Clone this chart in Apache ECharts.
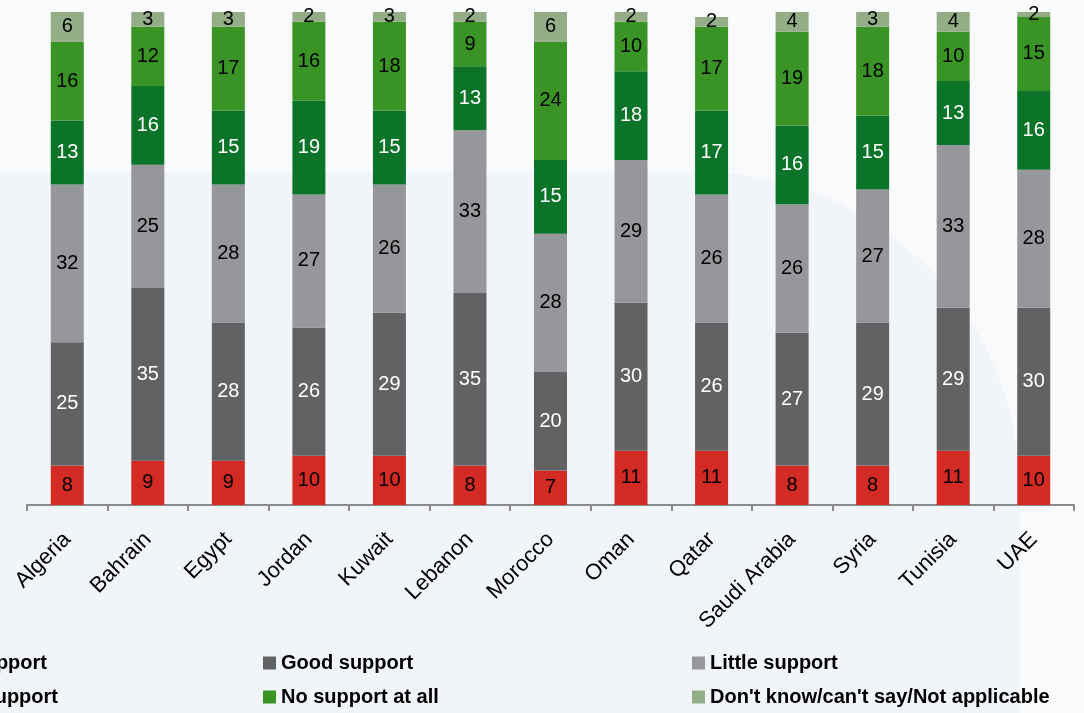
<!DOCTYPE html>
<html>
<head>
<meta charset="utf-8">
<script src="https://cdn.jsdelivr.net/npm/echarts@6/dist/echarts.min.js"></script>
<style>
  html, body { margin: 0; padding: 0; background: #F9FAFC; }
  #chart { width: 1084px; height: 713px; }
</style>
</head>
<body>
<div id="chart"></div>
<script>
// Countries along the x axis
const countries = ['Algeria', 'Bahrain', 'Egypt', 'Jordan', 'Kuwait', 'Lebanon', 'Morocco',
  'Oman', 'Qatar', 'Saudi Arabia', 'Syria', 'Tunisia', 'UAE'];

// Response shares (%) per country, bottom to top of each stack
const veryGoodSupport   = [8, 9, 9, 10, 10, 8, 7, 11, 11, 8, 8, 11, 10];
const goodSupport       = [25, 35, 28, 26, 29, 35, 20, 30, 26, 27, 29, 29, 30];
const littleSupport     = [32, 25, 28, 27, 26, 33, 28, 29, 26, 26, 27, 33, 28];
const veryLittleSupport = [13, 16, 15, 19, 15, 13, 15, 18, 17, 16, 15, 13, 16];
const noSupportAtAll    = [16, 12, 17, 16, 18, 9, 24, 10, 17, 19, 18, 10, 15];
const dontKnow          = [6, 3, 3, 2, 3, 2, 6, 2, 2, 4, 3, 4, 2];

const seriesNames = ['Very good support', 'Good support', 'Little support',
  'Very little support', 'No support at all', "Don't know/can't say/Not applicable"];
const seriesData = [veryGoodSupport, goodSupport, littleSupport, veryLittleSupport, noSupportAtAll, dontKnow];
const colors = ['#D42A24', '#616264', '#96979B', '#0B7429', '#3A9325', '#93AE87'];
const labelColors = ['#000', '#fff', '#000', '#fff', '#000', '#000'];

const FONT = 'Liberation Sans, Arial, sans-serif';

const chart = echarts.init(document.getElementById('chart'), null, { renderer: 'canvas' });

const series = seriesNames.map((name, i) => ({
  name,
  type: 'bar',
  stack: 'total',
  barWidth: 33,
  data: seriesData[i],
  itemStyle: { color: colors[i] },
  label: {
    show: true,
    position: 'inside',
    color: labelColors[i],
    fontFamily: FONT,
    fontSize: 20
  },
  emphasis: { disabled: true }
}));

// One legend block per entry, laid out in a 3 x 2 grid
const legendBase = {
  orient: 'horizontal',
  padding: 0,
  itemWidth: 13,
  itemHeight: 13,
  icon: 'rect',
  selectedMode: false,
  textStyle: { fontFamily: FONT, fontSize: 20, fontWeight: 'bold', color: '#000', lineHeight: 22 }
};
const legends = [
  Object.assign({}, legendBase, { data: [seriesNames[0]], right: 1037, top: 652 }),
  Object.assign({}, legendBase, { data: [seriesNames[1]], left: 263, top: 652 }),
  Object.assign({}, legendBase, { data: [seriesNames[2]], left: 692, top: 652 }),
  Object.assign({}, legendBase, { data: [seriesNames[3]], right: 1026, top: 686 }),
  Object.assign({}, legendBase, { data: [seriesNames[4]], left: 263, top: 686 }),
  Object.assign({}, legendBase, { data: [seriesNames[5]], left: 692, top: 686 })
];

chart.setOption({
  animation: false,
  backgroundColor: '#F9FAFC',
  graphic: [{
    type: 'rect',
    z: -10,
    silent: true,
    shape: { x: -40, y: 172, width: 1060, height: 600, r: [0, 320, 0, 0] },
    style: { fill: '#F1F4F8' }
  }],
  grid: { left: 27, right: 10, top: 12, bottom: 208 },
  legend: legends,
  xAxis: {
    type: 'category',
    data: countries,
    axisLine: { lineStyle: { color: '#8A8A8A', width: 2 } },
    axisTick: { show: true, length: 6, lineStyle: { color: '#8A8A8A', width: 2 } },
    axisLabel: {
      rotate: 45,
      margin: 31,
      color: '#000',
      fontFamily: FONT,
      fontSize: 22,
      interval: 0
    }
  },
  yAxis: {
    type: 'value',
    min: 0,
    max: 100,
    show: false,
    splitLine: { show: false }
  },
  series
});
</script>
</body>
</html>
